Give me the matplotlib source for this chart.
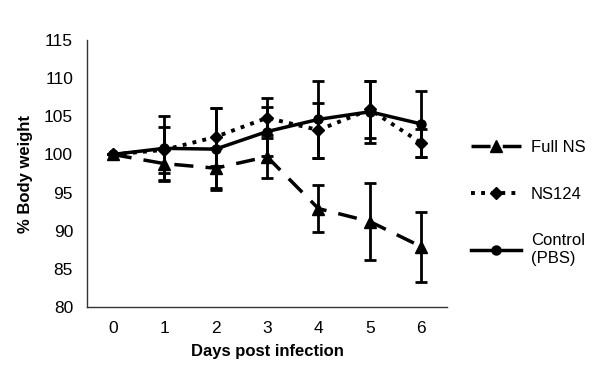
import matplotlib
matplotlib.use("Agg")
import matplotlib.pyplot as plt

# data
days = [0, 1, 2, 3, 4, 5, 6]
full_ns = [100.0, 98.8, 98.2, 99.7, 92.9, 91.2, 87.9]
full_ns_err = [0.0, 2.1, 2.6, 2.8, 3.1, 5.1, 4.6]
ns124 = [100.0, 100.6, 102.3, 104.8, 103.2, 105.9, 101.5]
ns124_err = [0.0, 3.0, 3.8, 2.6, 3.6, 3.8, 1.8]
control = [100.0, 100.8, 100.7, 103.0, 104.6, 105.6, 104.0]
control_err = [0.0, 4.3, 5.4, 3.2, 5.0, 4.1, 4.3]
labels = ["Full NS", "NS124", "Control\n(PBS)"]
yticks = [80, 85, 90, 95, 100, 105, 110, 115]

plt.rcParams['font.family'] = ['Liberation Sans', 'DejaVu Sans']

fig = plt.figure(figsize=(6, 3.68), dpi=100)
ax = fig.add_axes([0.145, 0.166, 0.6, 0.725])

eb = dict(ecolor="black", elinewidth=2, capsize=4, capthick=2, color="black")
h1 = ax.errorbar(days, full_ns, yerr=full_ns_err, linestyle=(0, (5.5, 3.5)), lw=2.5,
                 marker="^", ms=8.5, label=labels[0], **eb)
h2 = ax.errorbar(days, ns124, yerr=ns124_err, linestyle=(0, (1, 1.6)), lw=2.8,
                 marker="D", ms=6.5, label=labels[1], **eb)
h3 = ax.errorbar(days, control, yerr=control_err, linestyle="-", lw=2.5,
                 marker="o", ms=6.5, label=labels[2], **eb)

ax.set_xlim(-0.5, 6.5)
ax.set_ylim(80, 115)
ax.set_xticks(days)
ax.set_yticks(yticks)
ax.tick_params(length=0, labelsize=12.5, pad=10)
for s in ["top", "right"]:
    ax.spines[s].set_visible(False)
for s in ["left", "bottom"]:
    ax.spines[s].set_linewidth(1.0)
    ax.spines[s].set_color("#333333")

ax.set_xlabel("Days post infection", fontsize=12, fontweight="bold", labelpad=6)
ax.set_ylabel("% Body weight", fontsize=12, fontweight="bold", labelpad=8)

hl = [h1[0], h2[0], h3[0]]
fig.legend(hl, labels, loc="upper left", bbox_to_anchor=(0.76, 0.66),
           frameon=False, fontsize=12, handlelength=3.0, handletextpad=0.6,
           labelspacing=1.9)

fig.savefig("out.png", dpi=100)
